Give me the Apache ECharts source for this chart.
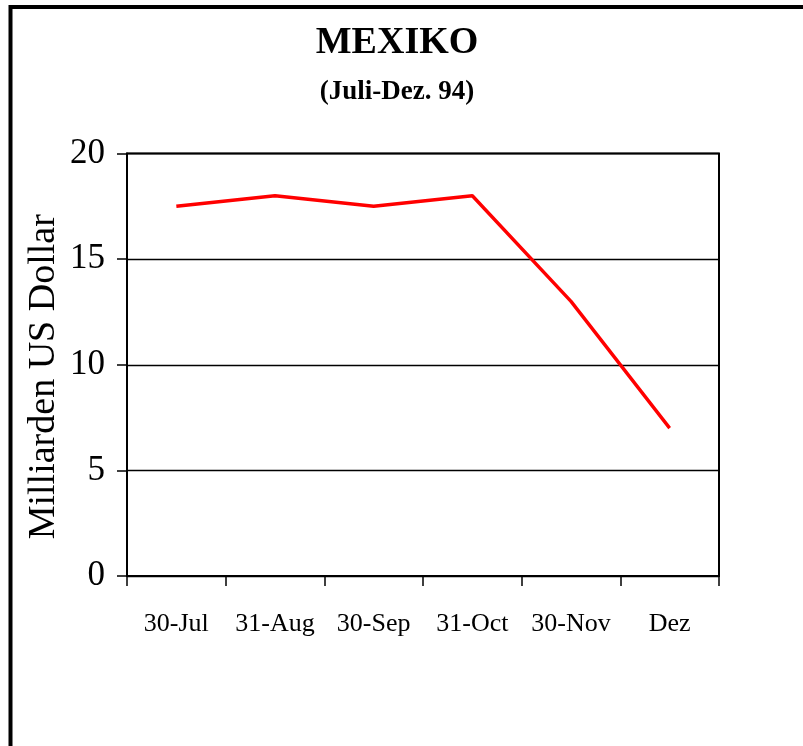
<!DOCTYPE html>
<html>
<head>
<meta charset="utf-8">
<script src="https://cdn.jsdelivr.net/npm/echarts@6/dist/echarts.min.js"></script>
<style>
  html, body { margin: 0; padding: 0; background: #fff; }
  #chart { width: 803px; height: 746px; }
</style>
</head>
<body>
<div id="chart"></div>
<script>
// Mexico reserves, July–December 1994 (billions of US dollars)
const categories = ['30-Jul', '31-Aug', '30-Sep', '31-Oct', '30-Nov', 'Dez'];
const reserves = [17.5, 18, 17.5, 18, 13, 7];
const yTicks = [0, 5, 10, 15, 20];

const serif = '"Liberation Serif", "Times New Roman", "DejaVu Serif", serif';

const chart = echarts.init(document.getElementById('chart'), null, { renderer: 'canvas' });

chart.setOption({
  backgroundColor: '#ffffff',
  animation: false,
  title: {
    text: 'MEXIKO',
    subtext: '(Juli-Dez. 94)',
    left: 392,
    top: 19,
    textAlign: 'center',
    itemGap: 17,
    textStyle: { fontFamily: serif, fontWeight: 'bold', fontSize: 38, color: '#000' },
    subtextStyle: { fontFamily: serif, fontWeight: 'bold', fontSize: 27, color: '#000' }
  },
  graphic: [{
    type: 'rect',
    shape: { x: 10.5, y: 7, width: 900, height: 900 },
    style: { fill: 'none', stroke: '#000', lineWidth: 4 },
    silent: true,
    z: 100
  }],
  grid: {
    left: 127, right: 84, top: 153.5, bottom: 170,
    show: true, borderColor: '#000', borderWidth: 2,
    containLabel: false
  },
  xAxis: {
    type: 'category',
    data: categories,
    boundaryGap: true,
    axisLine: { show: true, lineStyle: { color: '#000', width: 2 } },
    axisTick: { show: true, inside: false, length: 10, interval: 0, alignWithLabel: false, lineStyle: { color: '#000', width: 1.5 } },
    axisLabel: { fontFamily: serif, fontSize: 26, color: '#000', margin: 35, interval: 0, hideOverlap: false },
    splitLine: { show: false }
  },
  yAxis: {
    type: 'value',
    min: yTicks[0],
    max: yTicks[yTicks.length - 1],
    interval: 5,
    name: 'Milliarden US Dollar',
    nameLocation: 'middle',
    nameRotate: 90,
    nameGap: 64,
    nameMoveOverlap: false,
    nameTextStyle: { fontFamily: serif, fontSize: 38, color: '#000', padding: [0, 24, 0, 0] },
    axisLine: { show: true, lineStyle: { color: '#000', width: 2 } },
    axisTick: { show: true, inside: false, length: 10, lineStyle: { color: '#000', width: 1.5 } },
    axisLabel: { fontFamily: serif, fontSize: 35, color: '#000', margin: 22 },
    splitLine: { show: true, lineStyle: { color: '#000', width: 1.3 } }
  },
  series: [{
    type: 'line',
    data: reserves,
    showSymbol: false,
    symbol: 'none',
    lineStyle: { color: '#ff0000', width: 3.4 },
    itemStyle: { color: '#ff0000' }
  }]
});
</script>
</body>
</html>
